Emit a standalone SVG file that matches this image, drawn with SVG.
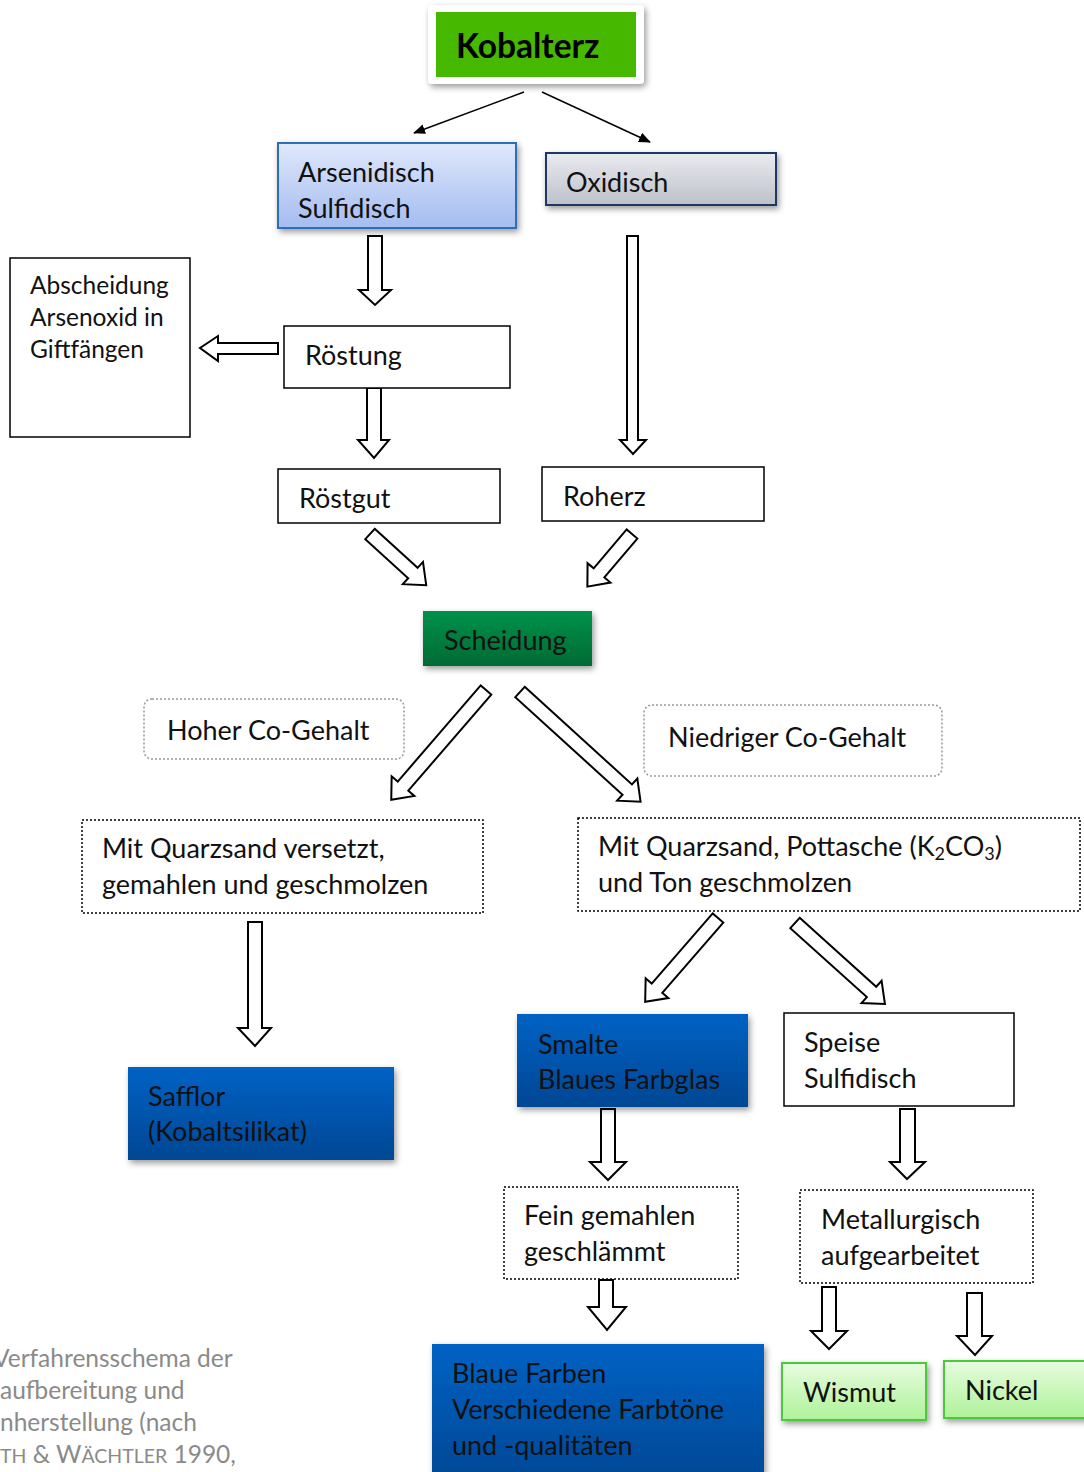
<svg xmlns="http://www.w3.org/2000/svg" width="1084" height="1472" viewBox="0 0 1084 1472">
<defs>
<linearGradient id="gBlueL" x1="0" y1="0" x2="0" y2="1"><stop offset="0" stop-color="#e0e8fb"/><stop offset="1" stop-color="#a4bcf0"/></linearGradient>
<linearGradient id="gGray" x1="0" y1="0" x2="0" y2="1"><stop offset="0" stop-color="#eaebf0"/><stop offset="1" stop-color="#bec0ca"/></linearGradient>
<linearGradient id="gGreen" x1="0" y1="0" x2="0" y2="1"><stop offset="0" stop-color="#00914b"/><stop offset="1" stop-color="#006a33"/></linearGradient>
<linearGradient id="gBlue" x1="0" y1="0" x2="0" y2="1"><stop offset="0" stop-color="#0062c4"/><stop offset="1" stop-color="#004794"/></linearGradient>
<linearGradient id="gLime" x1="0" y1="0" x2="0" y2="1"><stop offset="0" stop-color="#e8fcdf"/><stop offset="1" stop-color="#aef299"/></linearGradient>
<filter id="sh" x="-20%" y="-20%" width="140%" height="150%"><feDropShadow dx="2" dy="3" stdDeviation="3" flood-color="#000" flood-opacity="0.4"/></filter>
<marker id="ah" markerWidth="12" markerHeight="10" refX="11" refY="5" orient="auto" markerUnits="userSpaceOnUse"><path d="M0,0 L12,5 L0,10 Z" fill="#000"/></marker>
<style>
text{font-family:Lato,"Liberation Sans",sans-serif;font-size:27px;fill:#111}
.box{fill:#fff;stroke:#000;stroke-width:1.5}
.dot{fill:#fff;stroke:#000;stroke-width:1.5;stroke-dasharray:2 2}
.gdot{fill:#fff;stroke:#999;stroke-width:1.5;stroke-dasharray:2 2}
.blk{fill:#fff;stroke:#000;stroke-width:2;stroke-linejoin:miter}
.cap{fill:#8a8a8a;font-size:24.5px}
.sm{font-size:24.5px}
</style>
</defs>

<g id="connectors">
<line x1="524" y1="92" x2="414" y2="133" stroke="#000" stroke-width="1.5" marker-end="url(#ah)"/>
<line x1="542" y1="92" x2="650" y2="142" stroke="#000" stroke-width="1.5" marker-end="url(#ah)"/>
<polygon class="blk" points="368,236 382,236 382,290 391,290 375,305 359,290 368,290"/>
<polygon class="blk" points="367,388 381,388 381,440 389,440 374,458 358,440 367,440"/>
<polygon class="blk" points="627,236 638,236 638,440 646,440 633,454 620,440 627,440"/>
<polygon class="blk" points="278,343 278,354 218,354 218,361 200,348 218,336 218,343"/>
<polygon class="blk" points="248,922 262,922 262,1028 271,1028 255,1046 238,1028 248,1028"/>
<polygon class="blk" points="601,1109 615,1109 615,1162 626,1162 608,1180 590,1162 601,1162"/>
<polygon class="blk" points="900,1109 915,1109 915,1162 925,1162 907,1179 890,1162 900,1162"/>
<polygon class="blk" points="599,1280 613,1280 613,1307 626,1307 607,1330 588,1307 599,1307"/>
<polygon class="blk" points="822,1287 836,1287 836,1331 847,1331 829,1349 811,1331 822,1331"/>
<polygon class="blk" points="967,1293 982,1293 982,1336 992,1336 975,1355 957,1336 967,1336"/>
<polygon class="blk" transform="translate(370,534) rotate(42.3)" points="0,-7 58,-7 58,-15 76,0 58,15 58,7 0,7"/>
<polygon class="blk" transform="translate(632,534) rotate(130.3)" points="0,-7 51,-7 51,-15 69,0 51,15 51,7 0,7"/>
<polygon class="blk" transform="translate(486,690) rotate(130.8)" points="0,-7 127,-7 127,-15 145,0 127,15 127,7 0,7"/>
<polygon class="blk" transform="translate(520,692) rotate(42.3)" points="0,-7 145,-7 145,-15 163,0 145,15 145,7 0,7"/>
<polygon class="blk" transform="translate(718,918) rotate(131)" points="0,-7 93,-7 93,-15 111,0 93,15 93,7 0,7"/>
<polygon class="blk" transform="translate(795,923) rotate(42)" points="0,-7 103,-7 103,-15 121,0 103,15 103,7 0,7"/>
</g>

<g id="kobalterz">
<rect x="428" y="5" width="216" height="79" rx="4" fill="#fff" filter="url(#sh)"/>
<rect x="436" y="12" width="200" height="65" fill="#46b800"/>
<text x="456" y="58" style="font-size:33.5px;font-weight:bold;fill:#000">Kobalterz</text>
</g>

<g id="arsenidisch">
<rect x="278" y="143" width="238" height="85" fill="url(#gBlueL)" stroke="#2e6eb5" stroke-width="2" filter="url(#sh)"/>
<text x="298" y="182">Arsenidisch</text>
<text x="298" y="218">Sulfidisch</text>
</g>

<g id="oxidisch">
<rect x="546" y="153" width="230" height="52" fill="url(#gGray)" stroke="#1c3963" stroke-width="2" filter="url(#sh)"/>
<text x="566" y="192">Oxidisch</text>
</g>

<g id="abscheidung">
<rect class="box" x="10" y="258" width="180" height="179"/>
<text class="sm" x="30" y="294">Abscheidung</text>
<text class="sm" x="30" y="326">Arsenoxid in</text>
<text class="sm" x="30" y="358">Giftfängen</text>
</g>

<g id="roestung">
<rect class="box" x="284" y="326" width="226" height="62"/>
<text x="305" y="365">Röstung</text>
</g>

<g id="roestgut">
<rect class="box" x="278" y="469" width="222" height="54"/>
<text x="299" y="508">Röstgut</text>
</g>

<g id="roherz">
<rect class="box" x="542" y="467" width="222" height="54"/>
<text x="563" y="506">Roherz</text>
</g>

<g id="scheidung">
<rect x="423" y="611" width="169" height="55" fill="url(#gGreen)" filter="url(#sh)"/>
<text x="444" y="650">Scheidung</text>
</g>

<g id="hoher">
<rect class="gdot" x="144" y="699" width="260" height="60" rx="8"/>
<text x="167" y="740">Hoher Co-Gehalt</text>
</g>

<g id="niedriger">
<rect class="gdot" x="644" y="705" width="298" height="71" rx="8"/>
<text x="668" y="747">Niedriger Co-Gehalt</text>
</g>

<g id="quarz1">
<rect class="dot" x="82" y="820" width="401" height="93"/>
<text x="102" y="858">Mit Quarzsand versetzt,</text>
<text x="102" y="894">gemahlen und geschmolzen</text>
</g>

<g id="quarz2">
<rect class="dot" x="578" y="818" width="502" height="93"/>
<text x="598" y="856">Mit Quarzsand, Pottasche (K<tspan style="font-size:18px" dy="4">2</tspan><tspan dy="-4">CO</tspan><tspan style="font-size:18px" dy="4">3</tspan><tspan dy="-4">)</tspan></text>
<text x="598" y="892">und Ton geschmolzen</text>
</g>

<g id="safflor">
<rect x="128" y="1067" width="266" height="93" fill="url(#gBlue)" filter="url(#sh)"/>
<text x="148" y="1106">Safflor</text>
<text x="148" y="1141">(Kobaltsilikat)</text>
</g>

<g id="smalte">
<rect x="517" y="1014" width="231" height="93" fill="url(#gBlue)" filter="url(#sh)"/>
<text x="538" y="1054">Smalte</text>
<text x="538" y="1089">Blaues Farbglas</text>
</g>

<g id="speise">
<rect class="box" x="784" y="1013" width="230" height="93"/>
<text x="804" y="1052">Speise</text>
<text x="804" y="1088">Sulfidisch</text>
</g>

<g id="fein">
<rect class="dot" x="504" y="1187" width="234" height="92"/>
<text x="524" y="1225">Fein gemahlen</text>
<text x="524" y="1261">geschlämmt</text>
</g>

<g id="metallurgisch">
<rect class="dot" x="800" y="1190" width="233" height="93"/>
<text x="821" y="1229">Metallurgisch</text>
<text x="821" y="1265">aufgearbeitet</text>
</g>

<g id="blaue">
<rect x="432" y="1344" width="332" height="140" fill="url(#gBlue)" filter="url(#sh)"/>
<text x="452" y="1383">Blaue Farben</text>
<text x="452" y="1419">Verschiedene Farbtöne</text>
<text x="452" y="1455">und -qualitäten</text>
</g>

<g id="wismut">
<rect x="782" y="1363" width="144" height="57" fill="url(#gLime)" stroke="#4cc83a" stroke-width="2" filter="url(#sh)"/>
<text x="803" y="1402">Wismut</text>
</g>

<g id="nickel">
<rect x="944" y="1361" width="150" height="57" fill="url(#gLime)" stroke="#4cc83a" stroke-width="2" filter="url(#sh)"/>
<text x="965" y="1400">Nickel</text>
</g>

<g id="caption">
<text class="cap" x="-7" y="1367">Verfahrensschema der</text>
<text class="cap" x="0" y="1399">aufbereitung und</text>
<text class="cap" x="0" y="1431">nherstellung (nach</text>
<text class="cap" x="0" y="1463"><tspan style="font-size:19.5px">TH</tspan> &amp; W<tspan style="font-size:19.5px">ÄCHTLER</tspan> 1990,</text>
</g>
</svg>
